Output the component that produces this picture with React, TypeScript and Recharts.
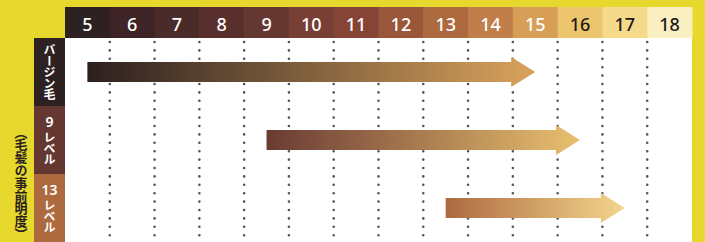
import { Bar, BarChart, CartesianGrid, XAxis, YAxis } from "recharts";

// hair level scale, left to right
const LEVELS = [5, 6, 7, 8, 9, 10, 11, 12, 13, 14, 15, 16, 17, 18];
const LEVEL_COLORS = [
  "#2d2121", "#3e2426", "#4b2a2a", "#582f2d", "#653731", "#783f34", "#864436",
  "#9a5639", "#ad6a3f", "#c07f4a", "#d79e58", "#eec56f", "#f5da8b", "#f9efc0",
];
const DARK_TEXT_FROM = 16;

// rows: starting brightness of the hair
const ROW_LABELS = ["バージン毛", "9レベル", "13レベル"];
const ROW_COLORS = ["#2d2121", "#653731", "#ad6a3f"];
const START_LEVELS = [5, 9, 13];
const END_LEVELS = [15, 16, 17];
const ARROW_FROM = ["#2b1f1f", "#6a3a33", "#ad6a40"];
const ARROW_TO = ["#daa35c", "#eac06e", "#f4d68c"];

const SIDE_NOTE = "（毛髪の事前明度）";

const YELLOW = "#e6d82c";
const INK = "#2a1f1f";
const HEADER_H = 31;
const LABEL_W = 31;
const CELL_W = (705 - 34 - LABEL_W - 13) / LEVELS.length;
const DOMAIN: [number, number] = [4.5, 18.5];

const data = ROW_LABELS.map((name, i) => ({ name, range: [START_LEVELS[i], END_LEVELS[i]] }));

// dotted separators sit between level cells
const boundaries = LEVELS.slice(0, -1).map((l) => l + 0.5);

const jp = '"Noto Sans CJK JP", "Noto Sans", sans-serif';

// tategaki: one text run, the font's vertical forms handle ー and brackets
function VerticalText({ x, top, step, text, fontSize, fill }: any) {
  return (
    <text
      x={x}
      y={top}
      fontFamily={jp}
      fontSize={fontSize}
      fontWeight={700}
      fill={fill}
      letterSpacing={step - fontSize}
      style={{ writingMode: "vertical-rl" }}
    >
      {text}
    </text>
  );
}

function HeaderTick(props: any) {
  const { x, y, payload } = props;
  const i = LEVELS.indexOf(payload.value);
  return (
    <g>
      <rect x={x - CELL_W / 2} y={y - HEADER_H} width={CELL_W + 0.5} height={HEADER_H} fill={LEVEL_COLORS[i]} />
      <text
        x={x}
        y={y - HEADER_H / 2 + 1}
        textAnchor="middle"
        dominantBaseline="central"
        fontFamily='"Noto Sans", sans-serif'
        fontSize={18}
        fontWeight={500}
        fill={payload.value >= DARK_TEXT_FROM ? "#1e1a18" : "#ffffff"}
      >
        {payload.value}
      </text>
    </g>
  );
}

function RowTick(props: any) {
  const { x, y, payload, index } = props;
  const label: string = payload.value;
  const m = label.match(/^(\d*)(.*)$/);
  const digits = m ? m[1] : "";
  const rest = m ? m[2] : label;
  const bandH = 68;
  const top = y - bandH / 2;
  const cx = x - LABEL_W / 2;
  return (
    <g>
      <rect x={x - LABEL_W} y={top} width={LABEL_W} height={bandH + 0.5} fill={ROW_COLORS[index]} />
      {digits && (
        <text
          x={cx}
          y={top + 15}
          textAnchor="middle"
          dominantBaseline="central"
          fontFamily='"Noto Sans", sans-serif'
          fontSize={14}
          fontWeight={600}
          fill="#fff"
        >
          {digits}
        </text>
      )}
      <VerticalText
        x={cx}
        top={digits ? top + 25.5 : top + 5.9}
        step={digits ? 11 : 11.2}
        text={rest}
        fontSize={12}
        fill="#fff"
      />
    </g>
  );
}

function ArrowShape(props: any) {
  const { x, y, width, height, index } = props;
  const cy = y + height / 2;
  const tip = x + width;
  const base = tip - 24;
  const id = `arrow-grad-${index}`;
  const d = `M${x},${cy - 10} L${base},${cy - 10} L${base},${cy - 15} L${tip},${cy} L${base},${cy + 15} L${base},${cy + 10} L${x},${cy + 10} Z`;
  return (
    <g>
      <defs>
        <linearGradient id={id} gradientUnits="userSpaceOnUse" x1={x} y1={0} x2={tip} y2={0}>
          <stop offset="0%" stopColor={ARROW_FROM[index]} />
          <stop offset="100%" stopColor={ARROW_TO[index]} />
        </linearGradient>
      </defs>
      <path d={d} fill={`url(#${id})`} />
    </g>
  );
}

function gridX({ xAxis, offset }: any) {
  return boundaries.map((b) =>
    xAxis && typeof xAxis.scale === "function"
      ? xAxis.scale(b)
      : offset.left + ((b - DOMAIN[0]) / (DOMAIN[1] - DOMAIN[0])) * offset.width
  );
}

export default function App() {
  return (
    <div style={{ position: "absolute", left: 0, top: 0, width: 705, height: 242, background: YELLOW, overflow: "hidden" }}>
      <BarChart
        width={705}
        height={242}
        data={data}
        layout="vertical"
        margin={{ top: 7, right: 13, bottom: 0, left: 34 }}
        barCategoryGap={0}
      >
        <CartesianGrid
          fill="#ffffff"
          fillOpacity={1}
          horizontal={false}
          stroke="#555555"
          strokeWidth={2.6}
          strokeDasharray="0 8.4"
          strokeDashoffset={-4}
          strokeLinecap="round"
          verticalCoordinatesGenerator={gridX}
        />
        <XAxis
          type="number"
          orientation="top"
          domain={DOMAIN}
          ticks={LEVELS}
          interval={0}
          height={HEADER_H}
          axisLine={false}
          tickLine={false}
          tickSize={0}
          tickMargin={0}
          tick={HeaderTick}
        />
        <YAxis
          type="category"
          dataKey="name"
          width={LABEL_W}
          axisLine={false}
          tickLine={false}
          tickSize={0}
          tickMargin={0}
          interval={0}
          tick={RowTick}
        />
        <Bar dataKey="range" barSize={30} shape={ArrowShape} isAnimationActive={false} />
      </BarChart>
      <svg width={34} height={242} style={{ position: "absolute", left: 0, top: 0 }}>
        <VerticalText x={21} top={125.1} step={12.8} text={SIDE_NOTE} fontSize={13} fill={INK} />
      </svg>
    </div>
  );
}
